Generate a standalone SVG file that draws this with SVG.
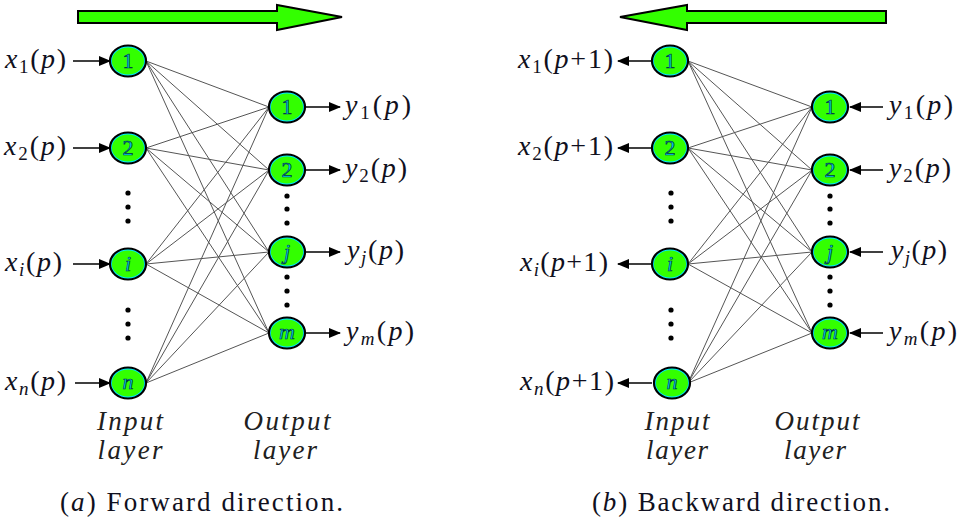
<svg xmlns="http://www.w3.org/2000/svg" width="965" height="525" viewBox="0 0 965 525">
<defs>
<style>
.lbl{font-family:"Liberation Serif","Times New Roman",serif;font-size:28px;fill:#101020}
.it{font-style:italic}
.sub{font-size:19px}
.cap{font-family:"Liberation Serif","Times New Roman",serif;font-size:27px;fill:#101020}
.lay{font-family:"Liberation Serif","Times New Roman",serif;font-size:27px;font-style:italic;fill:#202020;text-anchor:middle}
.outer{fill:none;stroke:#000;stroke-width:2.2}
.inner{fill:#33ff00;stroke:#00e8ff;stroke-width:1.8}
.nt{font-family:"Liberation Serif","Times New Roman",serif;font-size:22px;fill:#00d8ff;stroke:#003040;stroke-width:0.7;text-anchor:middle}
.edge{stroke:#555;stroke-width:1;fill:none}
.io{stroke:#000;stroke-width:1.3;fill:none}
.dot{fill:#000}
.big{fill:#33ff00;stroke:#000;stroke-width:2}
</style>
<marker id="ah" viewBox="0 0 12 10" refX="11" refY="5" markerWidth="12" markerHeight="10" markerUnits="userSpaceOnUse" orient="auto">
<path d="M0,0 L12,5 L0,10 Z" fill="#000"/>
</marker>
<g id="nd">
<ellipse cx="0" cy="0" rx="17" ry="14.5" class="inner"/>
<ellipse cx="0" cy="0" rx="18" ry="15.5" class="outer"/>
</g>
</defs>
<rect width="965" height="525" fill="#fff"/>

<polygon class="big" points="78,11 277,11 277,5 342,17 277,30 277,23 78,23"/>
<polygon class="big" points="886,11 687,11 687,5 620,17 687,30 687,23 886,23"/>

<g id="connectors">
<g class="edge">
<path d="M146,61 L269,107 M146,61 L269,170 M146,61 L269,252 M146,61 L269,333"/>
<path d="M146,148 L269,107 M146,148 L269,170 M146,148 L269,252 M146,148 L269,333"/>
<path d="M146,264 L269,107 M146,264 L269,170 M146,264 L269,252 M146,264 L269,333"/>
<path d="M146,383 L269,107 M146,383 L269,170 M146,383 L269,252 M146,383 L269,333"/>
</g>
<g class="io" marker-end="url(#ah)">
<line x1="73" y1="61" x2="110" y2="61"/>
<line x1="73" y1="148" x2="110" y2="148"/>
<line x1="73" y1="264" x2="110" y2="264"/>
<line x1="75" y1="383" x2="110" y2="383"/>
<line x1="305" y1="107" x2="340" y2="107"/>
<line x1="305" y1="170" x2="340" y2="170"/>
<line x1="305" y1="252" x2="340" y2="252"/>
<line x1="305" y1="333" x2="340" y2="333"/>
</g>
<g class="edge">
<path d="M688,61 L812,107 M688,61 L812,170 M688,61 L812,252 M688,61 L812,333"/>
<path d="M688,148 L812,107 M688,148 L812,170 M688,148 L812,252 M688,148 L812,333"/>
<path d="M688,264 L812,107 M688,264 L812,170 M688,264 L812,252 M688,264 L812,333"/>
<path d="M688,383 L812,107 M688,383 L812,170 M688,383 L812,252 M688,383 L812,333"/>
</g>
<g class="io" marker-end="url(#ah)">
<line x1="652" y1="61" x2="618" y2="61"/>
<line x1="652" y1="148" x2="618" y2="148"/>
<line x1="652" y1="264" x2="618" y2="264"/>
<line x1="652" y1="383" x2="618" y2="383"/>
<line x1="883" y1="107" x2="850" y2="107"/>
<line x1="883" y1="170" x2="850" y2="170"/>
<line x1="883" y1="252" x2="850" y2="252"/>
<line x1="883" y1="333" x2="850" y2="333"/>
</g>
</g>

<g id="a-in1"><use href="#nd" x="128" y="61"/><text class="nt" x="128" y="68">1</text></g>
<g id="a-in2"><use href="#nd" x="128" y="148"/><text class="nt" x="128" y="155">2</text></g>
<g id="a-ini"><use href="#nd" x="128" y="264"/><text class="nt it" x="128" y="271">i</text></g>
<g id="a-inn"><use href="#nd" x="128" y="383"/><text class="nt it" x="128" y="389">n</text></g>
<g id="a-out1"><use href="#nd" x="287" y="107"/><text class="nt" x="287" y="114">1</text></g>
<g id="a-out2"><use href="#nd" x="287" y="170"/><text class="nt" x="287" y="177">2</text></g>
<g id="a-outj"><use href="#nd" x="287" y="252"/><text class="nt it" x="287" y="259">j</text></g>
<g id="a-outm"><use href="#nd" x="287" y="333"/><text class="nt it" x="287" y="339">m</text></g>

<g id="b-in1"><use href="#nd" x="670" y="61"/><text class="nt" x="670" y="68">1</text></g>
<g id="b-in2"><use href="#nd" x="670" y="148"/><text class="nt" x="670" y="155">2</text></g>
<g id="b-ini"><use href="#nd" x="670" y="264"/><text class="nt it" x="670" y="271">i</text></g>
<g id="b-inn"><use href="#nd" x="672" y="383"/><text class="nt it" x="672" y="389">n</text></g>
<g id="b-out1"><use href="#nd" x="830" y="107"/><text class="nt" x="830" y="114">1</text></g>
<g id="b-out2"><use href="#nd" x="830" y="170"/><text class="nt" x="830" y="177">2</text></g>
<g id="b-outj"><use href="#nd" x="830" y="252"/><text class="nt it" x="830" y="259">j</text></g>
<g id="b-outm"><use href="#nd" x="830" y="333"/><text class="nt it" x="830" y="339">m</text></g>

<g class="dot">
<circle cx="128" cy="193" r="2.6"/><circle cx="128" cy="207" r="2.6"/><circle cx="128" cy="221" r="2.6"/>
<circle cx="128" cy="310" r="2.6"/><circle cx="128" cy="324" r="2.6"/><circle cx="128" cy="338" r="2.6"/>
<circle cx="287" cy="196" r="2.6"/><circle cx="287" cy="209" r="2.6"/><circle cx="287" cy="223" r="2.6"/>
<circle cx="287" cy="277" r="2.6"/><circle cx="287" cy="291" r="2.6"/><circle cx="287" cy="305" r="2.6"/>
<circle cx="671" cy="193" r="2.6"/><circle cx="671" cy="207" r="2.6"/><circle cx="671" cy="221" r="2.6"/>
<circle cx="671" cy="310" r="2.6"/><circle cx="671" cy="324" r="2.6"/><circle cx="671" cy="338" r="2.6"/>
<circle cx="830" cy="196" r="2.6"/><circle cx="830" cy="209" r="2.6"/><circle cx="830" cy="223" r="2.6"/>
<circle cx="830" cy="277" r="2.6"/><circle cx="830" cy="291" r="2.6"/><circle cx="830" cy="305" r="2.6"/>
</g>

<text class="lbl" x="5" y="68" textLength="61"><tspan class="it">x</tspan><tspan class="sub" dy="5">1</tspan><tspan dy="-5">(</tspan><tspan class="it">p</tspan>)</text>
<text class="lbl" x="4" y="155" textLength="62"><tspan class="it">x</tspan><tspan class="sub" dy="5">2</tspan><tspan dy="-5">(</tspan><tspan class="it">p</tspan>)</text>
<text class="lbl" x="5" y="271" textLength="57"><tspan class="it">x</tspan><tspan class="sub it" dy="5">i</tspan><tspan dy="-5">(</tspan><tspan class="it">p</tspan>)</text>
<text class="lbl" x="5" y="390" textLength="61"><tspan class="it">x</tspan><tspan class="sub it" dy="5">n</tspan><tspan dy="-5">(</tspan><tspan class="it">p</tspan>)</text>
<text class="lbl" x="345" y="114" textLength="66"><tspan class="it">y</tspan><tspan class="sub" dy="5">1</tspan><tspan dy="-5">(</tspan><tspan class="it">p</tspan>)</text>
<text class="lbl" x="345" y="177" textLength="62"><tspan class="it">y</tspan><tspan class="sub" dy="5">2</tspan><tspan dy="-5">(</tspan><tspan class="it">p</tspan>)</text>
<text class="lbl" x="347" y="259" textLength="57"><tspan class="it">y</tspan><tspan class="sub it" dy="5">j</tspan><tspan dy="-5">(</tspan><tspan class="it">p</tspan>)</text>
<text class="lbl" x="346" y="340" textLength="68"><tspan class="it">y</tspan><tspan class="sub it" dy="5">m</tspan><tspan dy="-5">(</tspan><tspan class="it">p</tspan>)</text>

<text class="lbl" x="518" y="68" textLength="95"><tspan class="it">x</tspan><tspan class="sub" dy="5">1</tspan><tspan dy="-5">(</tspan><tspan class="it">p</tspan>+1)</text>
<text class="lbl" x="518" y="155" textLength="95"><tspan class="it">x</tspan><tspan class="sub" dy="5">2</tspan><tspan dy="-5">(</tspan><tspan class="it">p</tspan>+1)</text>
<text class="lbl" x="520" y="271" textLength="88"><tspan class="it">x</tspan><tspan class="sub it" dy="5">i</tspan><tspan dy="-5">(</tspan><tspan class="it">p</tspan>+1)</text>
<text class="lbl" x="520" y="390" textLength="94"><tspan class="it">x</tspan><tspan class="sub it" dy="5">n</tspan><tspan dy="-5">(</tspan><tspan class="it">p</tspan>+1)</text>
<text class="lbl" x="889" y="114" textLength="64"><tspan class="it">y</tspan><tspan class="sub" dy="5">1</tspan><tspan dy="-5">(</tspan><tspan class="it">p</tspan>)</text>
<text class="lbl" x="889" y="177" textLength="62"><tspan class="it">y</tspan><tspan class="sub" dy="5">2</tspan><tspan dy="-5">(</tspan><tspan class="it">p</tspan>)</text>
<text class="lbl" x="891" y="259" textLength="56"><tspan class="it">y</tspan><tspan class="sub it" dy="5">j</tspan><tspan dy="-5">(</tspan><tspan class="it">p</tspan>)</text>
<text class="lbl" x="889" y="340" textLength="68"><tspan class="it">y</tspan><tspan class="sub it" dy="5">m</tspan><tspan dy="-5">(</tspan><tspan class="it">p</tspan>)</text>

<text class="lay" x="130" y="430" textLength="66">Input</text>
<text class="lay" x="130" y="459" textLength="65">layer</text>
<text class="lay" x="287" y="430" textLength="87">Output</text>
<text class="lay" x="285" y="459" textLength="64">layer</text>
<text class="lay" x="677" y="430" textLength="65">Input</text>
<text class="lay" x="677" y="459" textLength="62">layer</text>
<text class="lay" x="817" y="430" textLength="85">Output</text>
<text class="lay" x="815" y="459" textLength="62">layer</text>

<text class="cap" x="60" y="511" textLength="283">(<tspan class="it">a</tspan>)  Forward direction.</text>
<text class="cap" x="592" y="511" textLength="298">(<tspan class="it">b</tspan>)  Backward direction.</text>
</svg>
